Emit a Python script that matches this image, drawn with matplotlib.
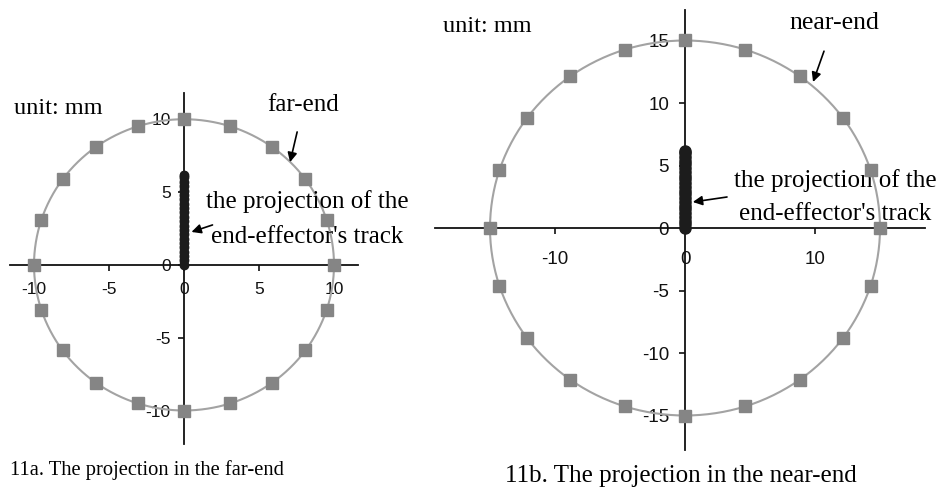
import numpy as np
import matplotlib
matplotlib.use("Agg")
import matplotlib.pyplot as plt

plt.rcParams["axes.unicode_minus"] = False

# Sample points on the two circles (mm), every 18 degrees
far_x = [10.0, 9.51, 8.09, 5.88, 3.09, 0.0, -3.09, -5.88, -8.09, -9.51,
         -10.0, -9.51, -8.09, -5.88, -3.09, 0.0, 3.09, 5.88, 8.09, 9.51]
far_y = [0.0, 3.09, 5.88, 8.09, 9.51, 10.0, 9.51, 8.09, 5.88, 3.09,
         0.0, -3.09, -5.88, -8.09, -9.51, -10.0, -9.51, -8.09, -5.88, -3.09]
near_x = [15.0, 14.27, 12.14, 8.82, 4.64, 0.0, -4.64, -8.82, -12.14, -14.27,
          -15.0, -14.27, -12.14, -8.82, -4.64, 0.0, 4.64, 8.82, 12.14, 14.27]
near_y = [0.0, 4.64, 8.82, 12.14, 14.27, 15.0, 14.27, 12.14, 8.82, 4.64,
          0.0, -4.64, -8.82, -12.14, -14.27, -15.0, -14.27, -12.14, -8.82, -4.64]

# Projection of the end-effector's track (points along the y axis)
track_far_y = [0.0, 0.3, 0.6, 0.9, 1.2, 1.5, 1.8, 2.1, 2.4, 2.7, 3.0, 3.3,
               3.6, 3.9, 4.2, 4.5, 4.8, 5.1, 5.4, 5.7, 6.0, 6.2]
track_near_y = [0.0, 0.3, 0.6, 0.9, 1.2, 1.5, 1.8, 2.1, 2.4, 2.7, 3.0, 3.3,
                3.6, 3.9, 4.2, 4.5, 4.8, 5.1, 5.4, 5.7, 6.0, 6.2]

far_ticks = [-10, -5, 0, 5, 10]
near_xticks = [-10, 0, 10]
near_yticks = [-15, -10, -5, 0, 5, 10, 15]

SERIF = ["Liberation Serif", "DejaVu Serif"]
SANS = ["Liberation Sans", "DejaVu Sans"]
MARK_C = "#858585"
LINE_C = "#a3a3a3"


def smooth_closed(x, y, n=16):
    """Closed Catmull-Rom curve through the given points."""
    p = np.column_stack([x, y])
    m = len(p)
    out = []
    t = np.linspace(0, 1, n, endpoint=False)[:, None]
    for i in range(m):
        p0, p1, p2, p3 = p[i - 1], p[i], p[(i + 1) % m], p[(i + 2) % m]
        seg = 0.5 * ((2 * p1) + (-p0 + p2) * t
                     + (2 * p0 - 5 * p1 + 4 * p2 - p3) * t ** 2
                     + (-p0 + 3 * p1 - 3 * p2 + p3) * t ** 3)
        out.append(seg)
    out.append(p[:1])
    c = np.vstack(out)
    return c[:, 0], c[:, 1]


def style_axes(ax, xlim, ylim, xticks, yticks, xpad, ypad, size):
    ax.set_xlim(*xlim)
    ax.set_ylim(*ylim)
    for s in ("top", "right"):
        ax.spines[s].set_visible(False)
    ax.spines["left"].set_position(("data", 0))
    ax.spines["bottom"].set_position(("data", 0))
    for s in ("left", "bottom"):
        ax.spines[s].set_linewidth(1.3)
        ax.spines[s].set_color("#111111")
    ax.set_xticks(xticks)
    ax.set_yticks(yticks)
    ax.tick_params(axis="x", direction="out", length=4.5, width=1.2,
                   pad=xpad, labelsize=size, colors="#111111")
    ax.tick_params(axis="y", direction="out", length=4.5, width=1.2,
                   pad=ypad, labelsize=size, colors="#111111")
    for lab in ax.get_xticklabels() + ax.get_yticklabels():
        lab.set_family(SANS)
    ax.patch.set_visible(False)


fig = plt.figure(figsize=(9.4, 4.9), dpi=100)

# ---- far-end panel ----
ax1 = fig.add_axes([10 / 940, 1 - 444 / 490, 348 / 940, 351 / 490])
style_axes(ax1, (-11.6, 11.6), (-12.3, 11.8), far_ticks, far_ticks, 8, 5, 12.5)
cx, cy = smooth_closed(far_x, far_y)
ax1.plot(cx, cy, color=LINE_C, lw=1.5, zorder=2)
ax1.plot(far_x, far_y, ls="none", marker="s", ms=8.5, color=MARK_C, zorder=4)
ax1.plot([0] * len(track_far_y), track_far_y, color="#1c1c1c", lw=6,
         solid_capstyle="round", marker="o", ms=6, zorder=3)
ax1.text(-11.3, 10.75, "unit: mm", family=SERIF, fontsize=17.5, va="center",
         ha="left")
ax1.annotate("far-end", xy=(7.07, 7.05), xytext=(7.97, 11.0),
             family=SERIF, fontsize=18, ha="center", va="center",
             arrowprops=dict(arrowstyle="-|>", color="black", lw=1.2,
                             mutation_scale=14, shrinkA=10, shrinkB=0))
ax1.text(8.23, 4.32, "the projection of the", family=SERIF, fontsize=18,
         ha="center", va="center")
ax1.text(8.23, 1.92, "end-effector's track", family=SERIF, fontsize=18,
         ha="center", va="center")
ax1.annotate("", xy=(0.5, 2.26), xytext=(1.9, 2.74),
             arrowprops=dict(arrowstyle="-|>", color="black", lw=1.2,
                             mutation_scale=14, shrinkA=0, shrinkB=0))

# ---- near-end panel ----
ax2 = fig.add_axes([435 / 940, 1 - 450 / 490, 490 / 940, 440 / 490])
style_axes(ax2, (-19.23, 18.46), (-17.76, 17.44), near_xticks, near_yticks,
           12, 7, 13.5)
cx, cy = smooth_closed(near_x, near_y)
ax2.plot(cx, cy, color=LINE_C, lw=1.5, zorder=2)
ax2.plot(near_x, near_y, ls="none", marker="s", ms=8.5, color=MARK_C, zorder=4)
ax2.plot([0] * len(track_near_y), track_near_y, color="#1c1c1c", lw=8,
         solid_capstyle="round", marker="o", ms=8, zorder=3)
ax2.text(-18.6, 16.1, "unit: mm", family=SERIF, fontsize=17.5, va="center",
         ha="left")
ax2.annotate("near-end", xy=(9.85, 11.68), xytext=(11.46, 16.4),
             family=SERIF, fontsize=18.5, ha="center", va="center",
             arrowprops=dict(arrowstyle="-|>", color="black", lw=1.2,
                             mutation_scale=14, shrinkA=11, shrinkB=0))
ax2.text(11.58, 3.76, "the projection of the", family=SERIF, fontsize=18,
         ha="center", va="center")
ax2.text(11.58, 1.12, "end-effector's track", family=SERIF, fontsize=18,
         ha="center", va="center")
ax2.annotate("", xy=(0.6, 2.08), xytext=(3.23, 2.48),
             arrowprops=dict(arrowstyle="-|>", color="black", lw=1.2,
                             mutation_scale=14, shrinkA=0, shrinkB=0))

# ---- captions ----
fig.text(10 / 940, 1 - 470 / 490, "11a. The projection in the far-end",
         family=SERIF, fontsize=14.8, ha="left", va="center")
fig.text(505 / 940, 1 - 476 / 490, "11b. The projection in the near-end",
         family=SERIF, fontsize=18, ha="left", va="center")

fig.savefig("out.png", dpi=100)
